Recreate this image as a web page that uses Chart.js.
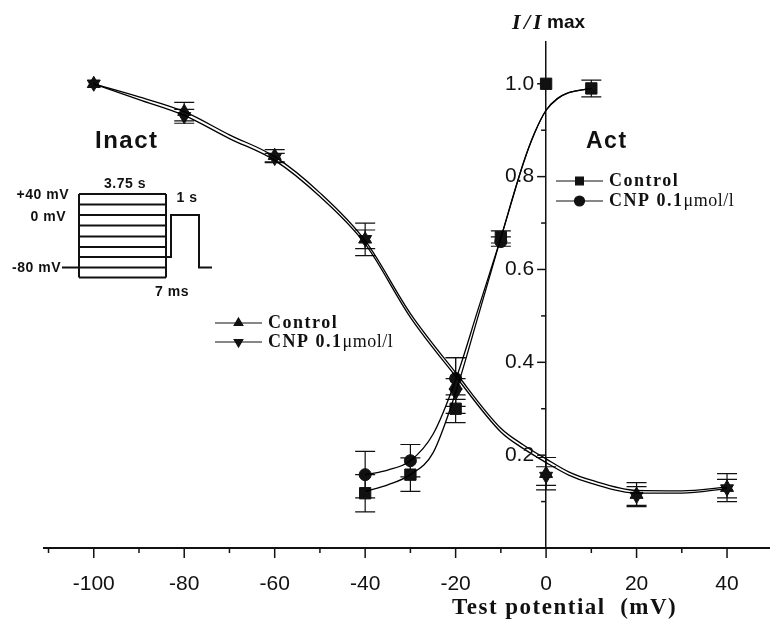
<!DOCTYPE html>
<html lang="en">
<head>
<meta charset="UTF-8">
<title>I/Imax vs test potential</title>
<style>
  html, body { margin: 0; padding: 0; background: #fff; }
  #chart { display: block; }
</style>
<script src="https://cdn.jsdelivr.net/npm/chart.js@4/dist/chart.umd.js"></script>
</head>
<body>
<canvas id="chart" width="770" height="621"></canvas>
<script>
// measured points (mV, I/Imax) with error bars
const inactV = [-100, -80, -60, -40, -20, 0, 20, 40];
const inactControl = [1.0, 0.94, 0.845, 0.665, 0.35, 0.16, 0.115, 0.13];
const inactControlErr = [0, 0.02, 0.013, 0.035, 0.06, 0.035, 0.026, 0.03];
const inactCNP = [1.0, 0.93, 0.84, 0.665, 0.335, 0.155, 0.112, 0.128];
const inactCNPErr = [0, 0.015, 0.01, 0.02, 0.03, 0.02, 0.02, 0.02];

const actV = [-40, -30, -20, -10, 0, 10];
const actControl = [0.118, 0.158, 0.30, 0.67, 1.0, 0.99];
const actControlErr = [0.04, 0.036, 0.03, 0.013, 0, 0.018];
const actCNPV = [-40, -30, -20, -10];
const actCNP = [0.158, 0.188, 0.365, 0.66];
const actCNPErr = [0.05, 0.035, 0.045, 0.01];

// fitted curves
const inactCurveV = [-100, -90, -80, -70, -60, -50, -40, -30, -20, -10, -5, 0, 5, 10, 20, 30, 40];
const inactControlCurve = [1.0, 0.972, 0.94, 0.89, 0.843, 0.765, 0.662, 0.505, 0.378, 0.258, 0.222, 0.192, 0.164, 0.146, 0.124, 0.123, 0.131];
const inactCNPCurve = [1.0, 0.966, 0.932, 0.882, 0.835, 0.757, 0.655, 0.497, 0.37, 0.25, 0.214, 0.184, 0.157, 0.139, 0.118, 0.118, 0.128];
const actCurveV = [-40, -35, -30, -25, -20, -15, -10, -5, -2.5, 0, 2.5, 5, 10];
const actControlCurve = [0.122, 0.136, 0.158, 0.205, 0.335, 0.5, 0.668, 0.83, 0.895, 0.943, 0.968, 0.981, 0.99];
const actCNPCurve = [0.158, 0.168, 0.188, 0.245, 0.362, 0.515, 0.668, 0.83, 0.895, 0.943, 0.968, 0.981, 0.99];

// axis ticks
const xTicks = [-110, -100, -90, -80, -70, -60, -50, -40, -30, -20, -10, 0, 10, 20, 30, 40];
const xLabels = [-100, -80, -60, -40, -20, 0, 20, 40];
const yTicks = [0.1, 0.2, 0.3, 0.4, 0.5, 0.6, 0.7, 0.8, 0.9, 1.0];
const yLabels = [0.2, 0.4, 0.6, 0.8, 1.0];

const pts = (xs, ys) => xs.map((v, i) => ({x: v, y: ys[i]}));

function curve(xs, ys) {
  return {data: pts(xs, ys), showLine: true, pointRadius: 0, borderColor: '#000',
    borderWidth: 1.3, cubicInterpolationMode: 'monotone', fill: false};
}
function marks(xs, ys, errs, style, r, rot) {
  return {data: pts(xs, ys), errors: errs, showLine: false, pointStyle: style,
    pointRadius: r, pointRotation: rot || 0, pointBackgroundColor: '#111',
    pointBorderColor: '#111', pointBorderWidth: 1};
}

const errorBars = {
  id: 'errorBars',
  beforeDatasetsDraw(chart) {
    const {ctx, scales: {x, y}} = chart;
    ctx.save();
    ctx.strokeStyle = '#111';
    ctx.lineWidth = 1.2;
    chart.data.datasets.forEach(ds => {
      if (!ds.errors) return;
      ds.data.forEach((p, i) => {
        const e = ds.errors[i];
        if (!e) return;
        const px = x.getPixelForValue(p.x);
        const top = y.getPixelForValue(p.y + e);
        const bot = y.getPixelForValue(p.y - e);
        ctx.beginPath();
        ctx.moveTo(px, top); ctx.lineTo(px, bot);
        ctx.moveTo(px - 10, top); ctx.lineTo(px + 10, top);
        ctx.moveTo(px - 10, bot); ctx.lineTo(px + 10, bot);
        ctx.stroke();
      });
    });
    ctx.restore();
  }
};

function spaced(ctx, text, x, y, spacing) {
  ctx.letterSpacing = spacing + 'px';
  ctx.fillText(text, x, y);
  const w = ctx.measureText(text).width;
  ctx.letterSpacing = '0px';
  return w;
}

function legendRow(ctx, y, x0, style, rot, bold, light) {
  ctx.beginPath();
  ctx.moveTo(x0, y); ctx.lineTo(x0 + 47, y);
  ctx.stroke();
  Chart.helpers.drawPoint(ctx, {pointStyle: style, radius: style === 'rect' ? 5.5 : 5, rotation: rot, borderWidth: 1}, x0 + 23.5, y);
  ctx.font = 'bold 18px "Liberation Serif"';
  const w = spaced(ctx, bold, x0 + 53, y, 1.5);
  if (light) {
    ctx.font = '18px "Liberation Serif"';
    spaced(ctx, light, x0 + 53 + w, y, 0.5);
  }
}

const decorations = {
  id: 'decorations',
  afterDraw(chart) {
    const {ctx, scales: {x, y}} = chart;
    const ax = x.getPixelForValue(0);
    ctx.save();
    ctx.strokeStyle = '#111';
    ctx.fillStyle = '#111';

    // tick marks and labels
    ctx.lineWidth = 1.5;
    xTicks.forEach(v => {
      const px = x.getPixelForValue(v);
      const len = xLabels.includes(v) ? 10 : 5;
      ctx.beginPath(); ctx.moveTo(px, x.top); ctx.lineTo(px, x.top + len); ctx.stroke();
    });
    yTicks.forEach(v => {
      const py = y.getPixelForValue(v);
      const len = yLabels.includes(v) ? 9 : 5;
      ctx.beginPath(); ctx.moveTo(ax, py); ctx.lineTo(ax - len, py); ctx.stroke();
    });
    ctx.font = '21px "Liberation Sans"';
    ctx.textBaseline = 'middle';
    ctx.textAlign = 'center';
    xLabels.forEach(v => ctx.fillText(String(v), x.getPixelForValue(v), x.top + 36));
    ctx.textAlign = 'right';
    yLabels.forEach(v => ctx.fillText(v.toFixed(1), ax - 12, y.getPixelForValue(v)));

    // axis titles
    ctx.textAlign = 'left';
    ctx.font = 'bold italic 22px "Liberation Serif"';
    ctx.fillText('I', 512, 23);
    ctx.fillText('/', 524, 23);
    ctx.fillText('I', 533, 23);
    ctx.font = 'bold 19px "Liberation Sans"';
    ctx.fillText('max', 547, 23);
    ctx.font = 'bold 23px "Liberation Serif"';
    spaced(ctx, 'Test potential  (mV)', 452, 608, 1.5);

    // panel labels
    ctx.font = 'bold 24px "Liberation Sans"';
    spaced(ctx, 'Inact', 95, 141, 1.5);
    ctx.font = 'bold 23px "Liberation Sans"';
    spaced(ctx, 'Act', 586, 142, 1.5);

    // legends
    ctx.lineWidth = 1.2;
    legendRow(ctx, 323, 215, 'triangle', 0, 'Control');
    legendRow(ctx, 342, 215, 'triangle', 180, 'CNP 0.1', 'μmol/l');
    legendRow(ctx, 181, 556, 'rect', 0, 'Control');
    legendRow(ctx, 201, 556, 'circle', 0, 'CNP 0.1', 'μmol/l');

    // voltage protocol inset
    ctx.lineWidth = 2;
    const steps = [194, 204.5, 215, 225.5, 236.5, 247, 257, 267.5, 277.5];
    ctx.beginPath();
    steps.forEach(s => { ctx.moveTo(79, s); ctx.lineTo(166, s); });
    ctx.moveTo(79, 194); ctx.lineTo(79, 277.5);
    ctx.moveTo(166, 194); ctx.lineTo(166, 277.5);
    ctx.moveTo(62, 267.5); ctx.lineTo(79, 267.5);
    ctx.moveTo(166, 257); ctx.lineTo(171, 257); ctx.lineTo(171, 215);
    ctx.lineTo(199, 215); ctx.lineTo(199, 267.5); ctx.lineTo(212, 267.5);
    ctx.stroke();
    ctx.font = 'bold 14px "Liberation Sans"';
    ctx.textAlign = 'right';
    ctx.letterSpacing = '0.5px';
    ctx.fillText('+40 mV', 69, 195);
    ctx.fillText('0 mV', 66, 217);
    ctx.fillText('-80 mV', 61, 268);
    ctx.textAlign = 'center';
    ctx.fillText('3.75 s', 125, 184);
    ctx.fillText('1 s', 187, 198);
    ctx.fillText('7 ms', 172, 292);
    ctx.restore();
  }
};

new Chart(document.getElementById('chart'), {
  type: 'scatter',
  data: {
    datasets: [
      curve(inactCurveV, inactControlCurve),
      curve(inactCurveV, inactCNPCurve),
      curve(actCurveV, actControlCurve),
      curve(actCurveV, actCNPCurve),
      marks(inactV, inactControl, inactControlErr, 'triangle', 7.5, 0),
      marks(inactV, inactCNP, inactCNPErr, 'triangle', 7.5, 180),
      marks(actV, actControl, actControlErr, 'rect', 8, 0),
      marks(actCNPV, actCNP, actCNPErr, 'circle', 6, 0)
    ]
  },
  options: {
    responsive: false,
    animation: false,
    devicePixelRatio: 1,
    layout: {autoPadding: false, padding: {left: 44, right: 0, top: 42, bottom: 73}},
    plugins: {legend: {display: false}, tooltip: {enabled: false}},
    scales: {
      x: {
        type: 'linear', position: 'bottom', min: -111, max: 49.5,
        grid: {display: false, drawTicks: false},
        border: {display: true, color: '#111', width: 2},
        ticks: {display: false}
      },
      y: {
        type: 'linear', position: {x: 0}, min: 0, max: 1.09,
        grid: {display: false, drawTicks: false},
        border: {display: true, color: '#111', width: 1.5},
        ticks: {display: false}
      }
    }
  },
  plugins: [errorBars, decorations]
});
</script>
</body>
</html>
